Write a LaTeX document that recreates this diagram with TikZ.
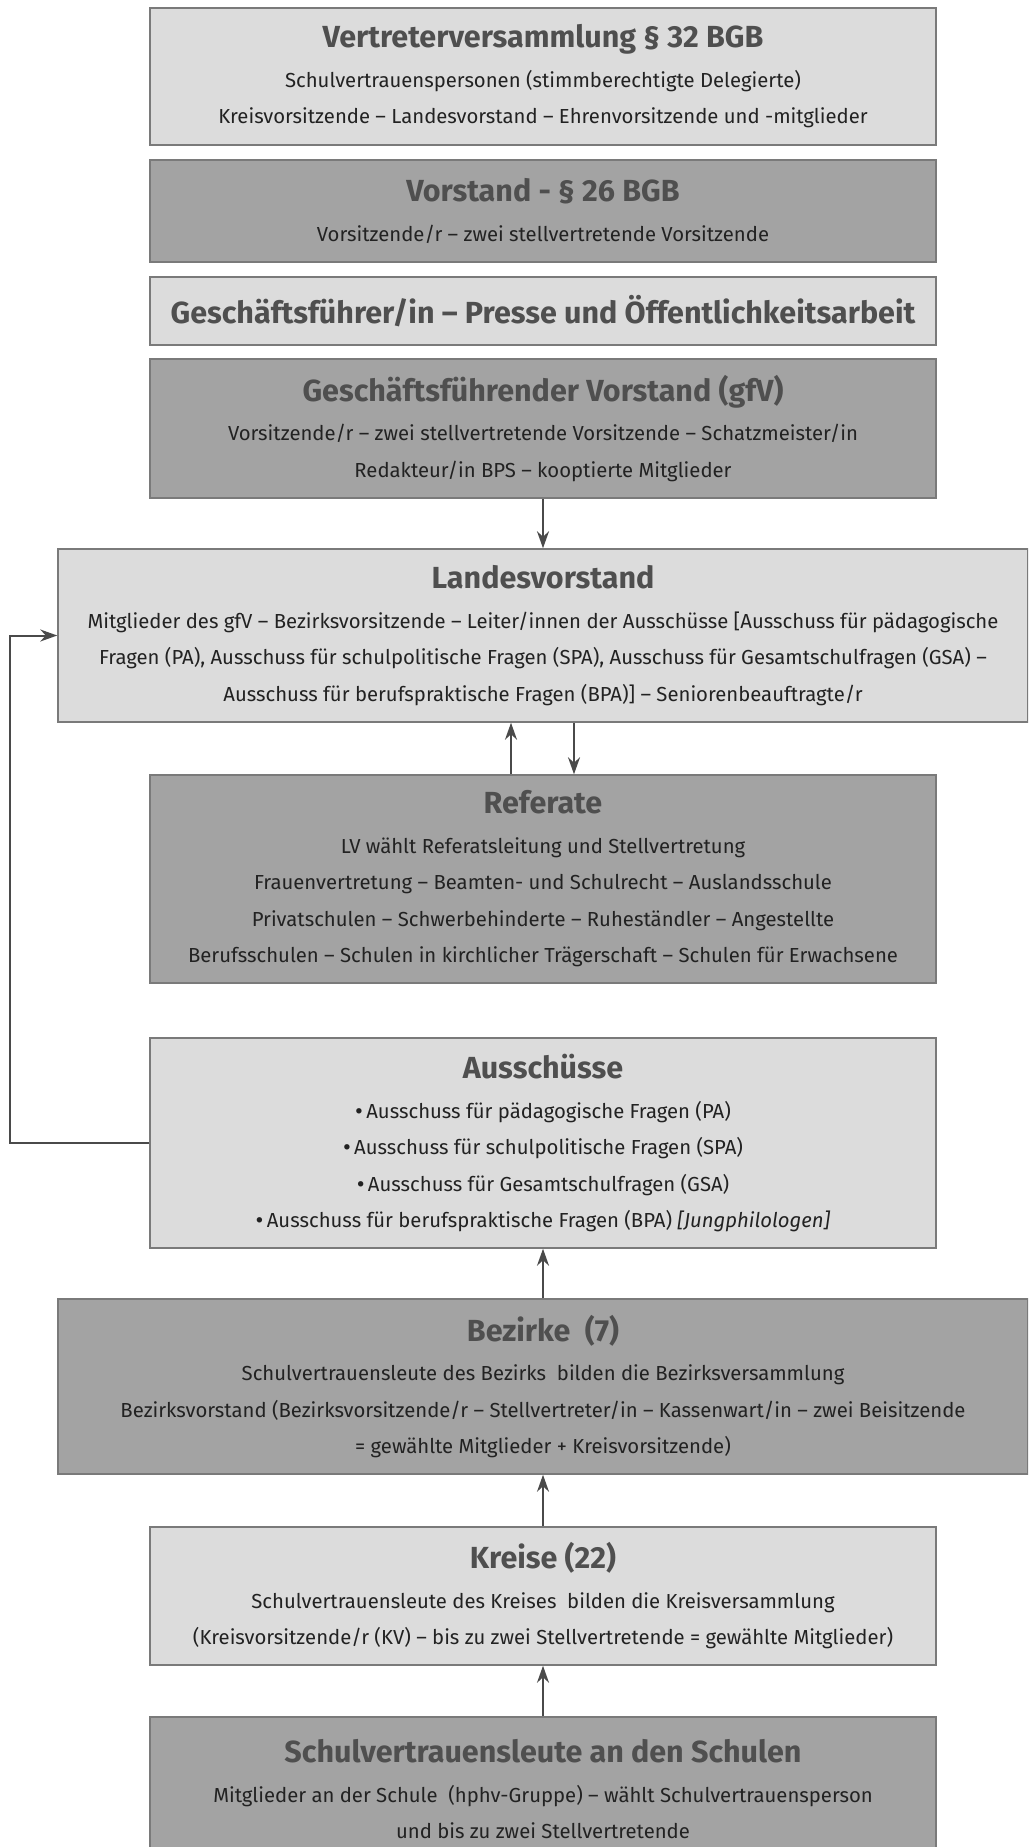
\documentclass[tikz,border=0pt]{standalone}
\usepackage{fontspec}
\setmainfont{Fira Sans}
\usetikzlibrary{arrows.meta}
\definecolor{lightfill}{HTML}{DCDCDC}
\definecolor{darkfill}{HTML}{A3A3A3}
\definecolor{edgecol}{HTML}{7A7A7A}
\definecolor{titlecol}{HTML}{4F4F4F}
\definecolor{bodycol}{HTML}{222222}
\definecolor{arrowcol}{HTML}{4A4A4A}
\newcommand{\ttl}[1]{{\fontsize{30.5}{36}\selectfont\bfseries\color{titlecol}#1}}
\newcommand{\bul}{{\fontsize{24}{24}\selectfont\raisebox{-1pt}{•}}\,}
\begin{document}
\begin{tikzpicture}[x=1pt,y=-1pt,
  box/.style={draw=edgecol, line width=1.5pt, text=bodycol, align=center, inner sep=0pt,
    font=\fontsize{20.3}{36.5}\selectfont},
  lightbox/.style={box, fill=lightfill},
  darkbox/.style={box, fill=darkfill},
  arr/.style={draw=arrowcol, line width=2pt, -{Stealth[length=17pt,width=12pt]}},
]
\useasboundingbox (0,0) rectangle (1028,1847);
\fill[white] (0,0) rectangle (1028,1847);
\clip (0,0) rectangle (1028,1847);

\node[lightbox, minimum width=786, minimum height=137] (vv) at (543,76.5)
  {\ttl{Vertreterversammlung § 32 BGB}\\[3pt]
   Schulvertrauenspersonen (stimmberechtigte Delegierte)\\
   Kreisvorsitzende – Landesvorstand – Ehrenvorsitzende und -mitglieder};

\node[darkbox, minimum width=786, minimum height=102] (vorstand) at (543,211)
  {\ttl{Vorstand - § 26 BGB}\\[3pt]
   Vorsitzende/r – zwei stellvertretende Vorsitzende};

\node[lightbox, minimum width=786, minimum height=68] (gf) at (543,311)
  {\ttl{Geschäftsführer/in – Presse und Öffentlichkeitsarbeit}};

\node[darkbox, minimum width=786, minimum height=139] (gfv) at (543,428.5)
  {\ttl{Geschäftsführender Vorstand (gfV)}\\[3pt]
   Vorsitzende/r – zwei stellvertretende Vorsitzende – Schatzmeister/in\\
   Redakteur/in BPS – kooptierte Mitglieder};

\node[lightbox, minimum width=970, minimum height=173] (lv) at (543,635.5)
  {\ttl{Landesvorstand}\\[3pt]
   Mitglieder des gfV – Bezirksvorsitzende – Leiter/innen der Ausschüsse [Ausschuss für pädagogische\\
   Fragen (PA), Ausschuss für schulpolitische Fragen (SPA), Ausschuss für Gesamtschulfragen (GSA) –\\
   Ausschuss für berufspraktische Fragen (BPA)] – Seniorenbeauftragte/r};

\node[darkbox, minimum width=786, minimum height=208] (ref) at (543,879)
  {\ttl{Referate}\\[3pt]
   LV wählt Referatsleitung und Stellvertretung\\
   Frauenvertretung – Beamten- und Schulrecht – Auslandsschule\\
   Privatschulen – Schwerbehinderte – Ruheständler – Angestellte\\
   Berufsschulen – Schulen in kirchlicher Trägerschaft – Schulen für Erwachsene};

\node[lightbox, minimum width=786, minimum height=210] (aus) at (543,1143)
  {\ttl{Ausschüsse}\\[3pt]
   \bul Ausschuss für pädagogische Fragen (PA)\\
   \bul Ausschuss für schulpolitische Fragen (SPA)\\
   \bul Ausschuss für Gesamtschulfragen (GSA)\\
   \bul Ausschuss für berufspraktische Fragen (BPA) \textit{[Jungphilologen]}};

\node[darkbox, minimum width=970, minimum height=175] (bez) at (543,1386.5)
  {\ttl{Bezirke\ \ (7)}\\[3pt]
   Schulvertrauensleute des Bezirks\ \ bilden die Bezirksversammlung\\
   Bezirksvorstand (Bezirksvorsitzende/r – Stellvertreter/in – Kassenwart/in – zwei Beisitzende\\
   = gewählte Mitglieder + Kreisvorsitzende)};

\node[lightbox, minimum width=786, minimum height=138] (kreise) at (543,1596)
  {\ttl{Kreise (22)}\\[3pt]
   Schulvertrauensleute des Kreises\ \ bilden die Kreisversammlung\\
   (Kreisvorsitzende/r (KV) – bis zu zwei Stellvertretende = gewählte Mitglieder)};

\node[darkbox, minimum width=786, minimum height=145] (schulv) at (543,1789.5)
  {\ttl{Schulvertrauensleute an den Schulen}\\[3pt]
   Mitglieder an der Schule\ \ (hphv-Gruppe) – wählt Schulvertrauensperson\\
   und bis zu zwei Stellvertretende};

\coordinate (fbx) at (10,0);
\draw[arr] (gfv.south) -- (lv.north);
\draw[arr] ([xshift=-32pt]ref.north) -- ([xshift=-32pt]ref.north |- lv.south);
\draw[arr] ([xshift=31pt]lv.south) -- ([xshift=31pt]lv.south |- ref.north);
\draw[arr] (aus.west) -- (fbx |- aus.west) |- (lv.west);
\draw[arr] (bez.north) -- (aus.south);
\draw[arr] (kreise.north) -- (bez.south);
\draw[arr] (schulv.north) -- (kreise.south);
\end{tikzpicture}
\end{document}
